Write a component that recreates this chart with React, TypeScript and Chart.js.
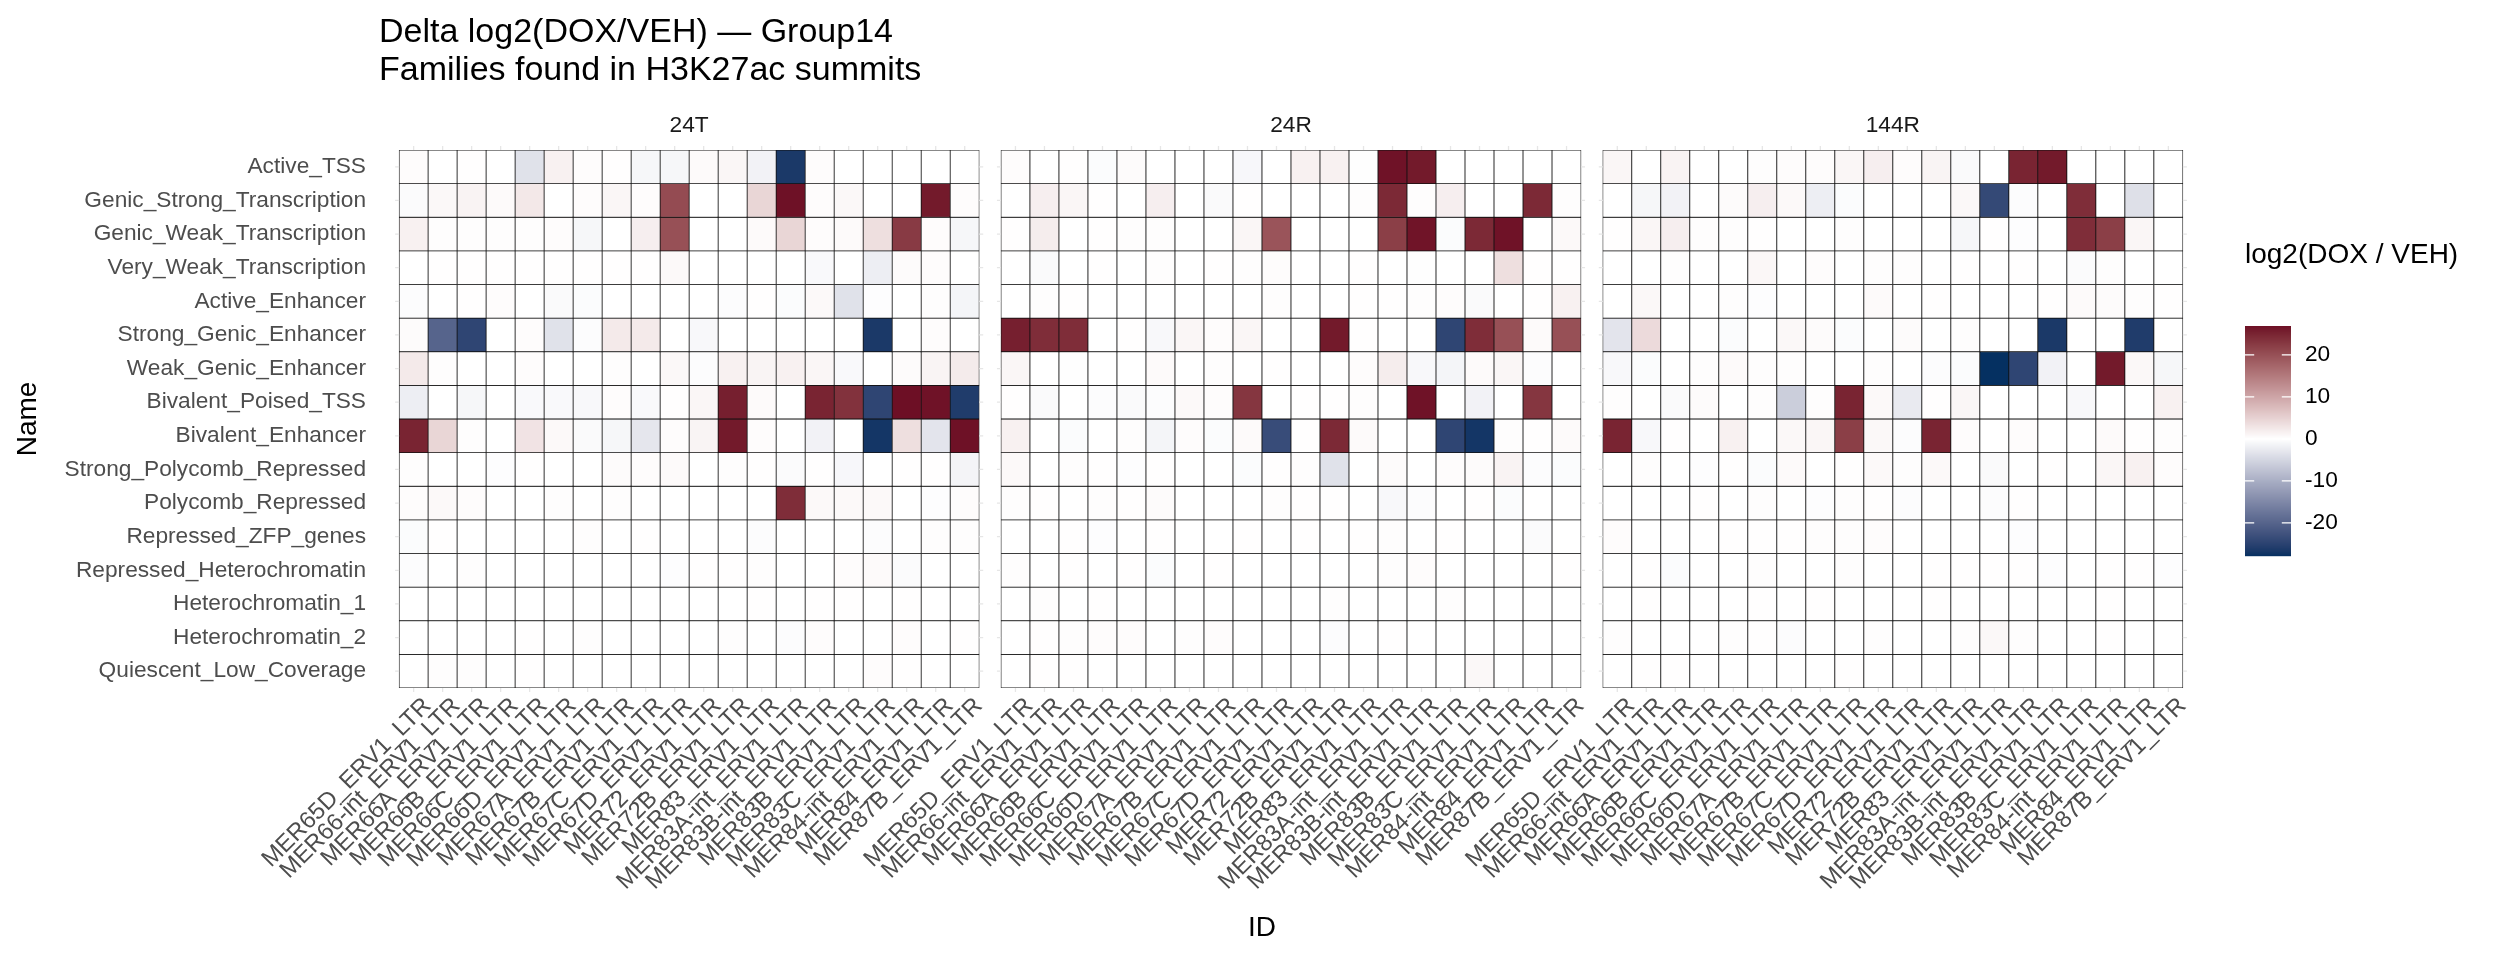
import React, { useEffect, useRef } from 'react';
import { Chart, registerables } from 'chart.js';

Chart.register(...registerables);

const titleLines = ['Delta log2(DOX/VEH) \u2014 Group14', 'Families found in H3K27ac summits'];
const xTitle = 'ID';
const yTitle = 'Name';
const legendTitle = 'log2(DOX / VEH)';
const legendTicks = [-20, -10, 0, 10, 20];

const facets = ['24T', '24R', '144R'];

const ids = [
  'MER65D_ERV1_LTR', 'MER66-int_ERV1_LTR', 'MER66A_ERV1_LTR', 'MER66B_ERV1_LTR', 'MER66C_ERV1_LTR',
  'MER66D_ERV1_LTR', 'MER67A_ERV1_LTR', 'MER67B_ERV1_LTR', 'MER67C_ERV1_LTR', 'MER67D_ERV1_LTR',
  'MER72_ERV1_LTR', 'MER72B_ERV1_LTR', 'MER83_ERV1_LTR', 'MER83A-int_ERV1_LTR', 'MER83B-int_ERV1_LTR',
  'MER83B_ERV1_LTR', 'MER83C_ERV1_LTR', 'MER84-int_ERV1_LTR', 'MER84_ERV1_LTR', 'MER87B_ERV1_LTR',
];

const states = [
  'Active_TSS', 'Genic_Strong_Transcription', 'Genic_Weak_Transcription', 'Very_Weak_Transcription',
  'Active_Enhancer', 'Strong_Genic_Enhancer', 'Weak_Genic_Enhancer', 'Bivalent_Poised_TSS',
  'Bivalent_Enhancer', 'Strong_Polycomb_Repressed', 'Polycomb_Repressed', 'Repressed_ZFP_genes',
  'Repressed_Heterochromatin', 'Heterochromatin_1', 'Heterochromatin_2', 'Quiescent_Low_Coverage',
];

// rows = states (top to bottom), columns = ids
const vals24T = [
  [0.3, 0, 0.1, 0, -3.5, 1.5, 0.3, 0.1, -1, -1, 0.5, 1, -1.5, -26.5, 0.3, 0, 0, 0, 0, 0],
  [-0.5, 0.8, 1.3, 0.5, 2.5, 0, 0.3, 1, 0.3, 20.5, 0, 0, 4.5, 26.8, 0.3, 0.8, 0, 0, 26, 0.3],
  [1.5, 0.2, 0.2, 0.2, 0.2, 0.3, -1, 0, 1.8, 20, 0, 0, 0.5, 4.5, 0.3, 0.5, 3.5, 22.5, 0.3, -1],
  [0, 0.1, 0.1, 0.1, 0.1, 0.1, 0.1, 0.1, 0.1, 0.7, 0, 0, 0, 0, -0.7, 0, -2, 0.4, 0.3, 0],
  [-0.3, 0, 0.1, 0.3, 0, -0.6, -0.4, 0, 0, 0, 0, -0.3, 0.1, -0.4, 0.6, -3.5, -0.2, 0, 0.2, -1.2],
  [0.4, -20, -24.5, 0, 0.3, -3.5, -0.3, 2.3, 2.3, 0, -0.8, 0, 0, 0, 0, 0, -26.5, 0, 0.3, 0],
  [2.3, 0.2, 0, 0, 0.3, 0, 0, 0.2, 0, 0.8, -0.3, 1.5, 1.2, 1.5, 1, -0.7, 0, 0.4, 1.2, 2.2],
  [-2, 0, -1, 0, -0.7, -0.7, -0.8, 0.3, -0.7, 0.1, 1, 25.5, 0.5, 0, 25, 23.5, -24.5, 26.9, 26.7, -26],
  [25, 4.5, 0.2, 0, 3, 0.7, -0.6, -1, -3, 0.3, 1.2, 26, 0.3, 0, -1.5, 0, -27, 3.5, -3.2, 26.8],
  [0.2, 0, 0, -0.2, 0.1, 0, 0, 0.4, 0.3, 0.5, 0, 0.2, 0.1, -0.5, 0.1, -0.9, 0, 0.1, 0.1, -1.3],
  [0.3, 0.6, 0.3, 0, 0, 0.2, 0, 0.2, 0, 0, 0, 0, 0, 24, 0.6, 0.7, 0.6, 0, -0.2, 0.3],
  [-0.4, 0.1, 0, 0, 0, 0, 0.2, 0, 0.1, 0, 0, 0, -0.3, 0, 0, 0, -0.3, 0, 0.2, 0.2],
  [-0.3, 0, 0.2, 0, 0, 0, 0, 0, 0, -0.2, 0.1, 0.1, 0.2, 0, 0, 0.3, 0.5, -0.5, 0, 0],
  [0, 0, 0, 0, 0, 0, 0, 0, 0, 0, 0, 0, 0.1, 0, 0.1, 0.1, 0, 0.1, 0, 0],
  [0, 0, 0, 0, 0.1, 0, 0.2, 0, 0, 0, 0, 0.2, 0, -0.3, 0.3, 0, 0, 0.3, 0, 0.1],
  [0, 0.2, 0.2, 0, 0.1, 0, 0, 0, 0, 0, 0, 0, 0, 0, 0, 0, 0.3, 0.1, 0, 0],
];

const vals24R = [
  [0.3, 0, 0.1, -0.4, 0.4, 0, 0, 0, -0.9, 0, 1.5, 1.5, -0.1, 26.7, 26, 0, 0, 0, 0, 0],
  [0, 1.8, 1, 0.1, 0, 1.8, 0, -0.6, 0.1, 0, 0, 0, 0.2, 24.5, 0.2, 1.8, 0, 0, 24.5, 0.2],
  [0.1, 2, 0, 0.1, 0.2, 0.2, 0, 0, 1, 19.5, 0, 0, 0, 22, 26.5, -0.4, 24.5, 26.7, 0, 0.6],
  [0, -0.6, 0, 0.1, 0, 0.2, 0, 0.1, 0.2, 0.3, 0, 0, 0.1, 0, -0.1, 0, 0, 3.5, 0.1, 0.1],
  [0, 0.2, 0.1, 0, 0, 0, 0, 0, 0, 0.2, 0, 0, 0.1, 0.1, 0.2, 0.3, -0.6, 0, 0.1, 1.5],
  [25.5, 24, 24, 0, 0.1, -0.8, 1, 0.3, 1, 0, 0, 26, 0.1, 0, 0, -24.5, 24, 20, 0.5, 20],
  [1, 0, -0.1, 0, 0, 0.5, 0, 0.2, 0, 0.1, 0, 0, 0.3, 2, -0.8, -1.2, 0.5, 1, -0.3, 0],
  [0.1, -0.6, 0, -0.3, -0.6, -0.3, 0.6, 0.3, 23, 0, 0.1, 0.1, 0.2, 0, 26.7, 0, -1.5, 0, 23, 0],
  [1.5, 0, -0.4, 0, 0.2, -1.2, 0.3, -0.4, 0.5, -23.5, 0.1, 24.5, 0.5, 0, 0, -24.5, -27, 0.2, 0.1, 0.5],
  [0.6, 0, 0.2, 0.1, -0.2, 0.1, 0, 0, -0.4, 0.1, 0.2, -3.5, 0, 0.4, 0, 0.3, 0.4, 1.3, -0.3, -0.4],
  [0.2, 0.1, 0, 0.2, 0.1, 0.4, 0, 0, 0, 0.2, 0.1, 0.1, 0, -0.8, -0.3, 0, 0.1, -0.4, 0, 0],
  [0, 0, 0.1, -0.2, 0, 0.1, 0, 0, 0.1, 0, 0.1, 0, 0.1, 0.2, 0, 0.1, 0, 0, -0.5, 0],
  [0.2, 0, 0.1, 0, 0.1, -0.4, 0, 0.1, 0, 0, 0, 0, 0, 0.2, 0.3, 0, 0, 0, 0, 0.1],
  [0, 0.2, 0, 0.1, 0, 0, 0, 0, 0, 0, 0, 0.2, 0, 0, 0, 0.2, 0, 0, 0, 0],
  [0, 0.1, 0.2, 0.3, 0.3, 0, 0.2, 0.3, 0, 0, 0, -0.3, 0, 0.1, 0, 0, 0, 0, 0, 0],
  [0, 0.1, 0.1, 0, 0, 0, 0, 0, 0, 0, 0, 0, 0, 0, 0, 0, 0.8, 0, 0, 0],
];

const vals144R = [
  [1, 0, 1.3, 0, 0, 0.2, 0.3, 0.3, 1, 1.8, 0.3, 1.2, -0.6, 0, 25, 26, 0, 0, 0, 0],
  [0, -1, -1.5, 0, 0.4, 1.8, 0.6, -2, -0.4, 0, 0, 0, 0.8, -24, -0.3, 0, 24, 0, -3.8, 0],
  [0.1, 1, 1.8, 0.2, 0.2, 0.1, 0, 0, 0.2, 0, 0, 0, -1, 0.1, -0.2, 0, 24, 22, 1, 0],
  [0, 0, 0.2, 0, 0, 0.9, 0, 0.3, 0, 0.2, 0.2, 0, 0.1, 0, 0.1, 0, -0.5, 0.2, 0, 0],
  [0, 0.8, 0, 0, 0.2, -0.2, 0, 0, 0, 0.5, 0, 0.1, 0, 0, 0, 0.1, 0.5, 0.4, 0.2, 0.1],
  [-3.2, 4, 0, 0, -0.4, 0, 0.8, 0.4, -0.4, 0, 0.4, 0, 0.2, 0, 0, -26.5, 0, 0, -26, 0],
  [-0.8, -0.4, 0, 0.2, 0.5, 0.2, 0.2, 0, 0, 0.2, 0, -0.3, -0.4, -27.9, -24.5, -1.5, 0, 26, 0.8, -1],
  [0.2, 0, -0.6, 0.4, 0, 0.2, -6, 0.2, 25, 0.6, -2.5, 0.1, 1, 0, 0, 0, -0.8, 0, 0, 1.5],
  [25, -0.8, 0.1, 0, 1.5, 0, 0.8, 1, 22, 0.8, -0.3, 25, 0.3, 0, 0.3, 0, 0, 0.5, 0.1, 0.2],
  [0, 0.2, 0, -0.2, 0.1, -0.4, 0.5, 0, 0.1, 0.6, 0.2, 0.6, 0, -0.6, 0, 0.1, 0, 1, 1.5, 0.3],
  [0, 0, 0, 0.1, 0, 0.2, 0, -0.2, 0.2, 0.1, -0.3, 0, 0, -0.3, 0.1, 0, 0, 0, 0, 0],
  [0.3, 0, 0, 0, 0.1, 0.1, 0.1, 0.2, 0.2, 0.3, 0, 0, 0, 0, -0.2, 0, 0, 0, 0, 0],
  [0, 0.1, -0.4, 0, 0, 0.2, 0, 0, 0.2, 0, 0, 0.1, 0.1, 0.1, 0.1, -0.2, 0, 0.1, 0.1, -0.2],
  [0, 0.1, 0, 0, 0, 0.1, 0, 0.1, 0, 0, 0, 0.1, 0, 0, 0, 0, 0, 0.1, 0, 0],
  [0.2, 0, 0, 0, 0.2, 0.1, -0.3, 0, 0, 0.2, 0, 0, 0.2, 0.8, 0.2, 0, 0, 0.1, 0, 0],
  [0, 0.1, 0.1, 0, 0, 0, 0, 0, 0.1, 0, 0, 0, 0, 0, 0, 0, 0, 0, 0, 0],
];

const panelValues = [vals24T, vals24R, vals144R];

const LOW = '#053061';
const MID = '#FFFFFF';
const HIGH = '#67001F';
const FONT = '"Liberation Sans", Arial, Helvetica, sans-serif';

// ---- Lab colour interpolation (like scales::colour_ramp) ----
function hexToRgb(h: string) {
  const n = parseInt(h.slice(1), 16);
  return [(n >> 16) & 255, (n >> 8) & 255, n & 255];
}
function toLin(c: number) {
  c /= 255;
  return c <= 0.04045 ? c / 12.92 : Math.pow((c + 0.055) / 1.055, 2.4);
}
function fromLin(c: number) {
  const v = c <= 0.0031308 ? 12.92 * c : 1.055 * Math.pow(c, 1 / 2.4) - 0.055;
  return Math.max(0, Math.min(255, Math.round(v * 255)));
}
const WX = 0.95047, WY = 1.0, WZ = 1.08883;
function fLab(t: number) { return t > 0.008856 ? Math.cbrt(t) : 7.787 * t + 16 / 116; }
function fInv(t: number) { const t3 = t * t * t; return t3 > 0.008856 ? t3 : (t - 16 / 116) / 7.787; }
function rgbToLab(rgb: number[]) {
  const [r, g, b] = rgb.map(toLin);
  const X = 0.4124564 * r + 0.3575761 * g + 0.1804375 * b;
  const Y = 0.2126729 * r + 0.7151522 * g + 0.072175 * b;
  const Z = 0.0193339 * r + 0.119192 * g + 0.9503041 * b;
  const fx = fLab(X / WX), fy = fLab(Y / WY), fz = fLab(Z / WZ);
  return [116 * fy - 16, 500 * (fx - fy), 200 * (fy - fz)];
}
function labToRgb(lab: number[]) {
  const fy = (lab[0] + 16) / 116;
  const fx = fy + lab[1] / 500;
  const fz = fy - lab[2] / 200;
  const X = fInv(fx) * WX, Y = fInv(fy) * WY, Z = fInv(fz) * WZ;
  const r = 3.2404542 * X - 1.5371385 * Y - 0.4985314 * Z;
  const g = -0.969266 * X + 1.8760108 * Y + 0.041556 * Z;
  const b = 0.0556434 * X - 0.2040259 * Y + 1.0572252 * Z;
  return [fromLin(r), fromLin(g), fromLin(b)];
}
const labLow = rgbToLab(hexToRgb(LOW));
const labMid = rgbToLab(hexToRgb(MID));
const labHigh = rgbToLab(hexToRgb(HIGH));

const allValues = panelValues.flat(2);
const vMin = Math.min(...allValues);
const vMax = Math.max(...allValues);
const maxAbs = Math.max(Math.abs(vMin), Math.abs(vMax));

function colorFor(v: number) {
  const t = 0.5 + v / (2 * maxAbs);
  let a: number[], b: number[], s: number;
  if (t < 0.5) { a = labLow; b = labMid; s = t / 0.5; } else { a = labMid; b = labHigh; s = (t - 0.5) / 0.5; }
  s = Math.max(0, Math.min(1, s));
  const lab = [0, 1, 2].map((i) => a[i] + (b[i] - a[i]) * s);
  const [r, g, bb] = labToRgb(lab);
  return `rgb(${r},${g},${bb})`;
}

// ---- layout in data units ----
const NC = ids.length;
const GAP = 0.75;
const xOf = (p: number, c: number) => p * (NC + GAP) + c + 0.5;
const panelStart = (p: number) => p * (NC + GAP);
const tickPositions = facets.flatMap((_, p) => ids.map((__, c) => xOf(p, c)));

const W = 2496;
const H = 960;

export default function App() {
  const ref = useRef<HTMLCanvasElement | null>(null);

  useEffect(() => {
    const canvas = ref.current;
    if (!canvas) return;

    const datasets = states.map((s, r) => ({
      label: s,
      data: panelValues.flatMap((pv, p) => pv[r].map((_, c) => ({ x: xOf(p, c), y: [r, r + 1] }))),
      backgroundColor: panelValues.flatMap((pv) => pv[r].map((v) => colorFor(v))),
      borderColor: '#111111',
      borderWidth: 0.75,
      borderSkipped: false,
      grouped: false,
      categoryPercentage: 1,
      barPercentage: 1,
    }));

    const decor = {
      id: 'decor',
      afterDraw(chart: any) {
        const ctx = chart.ctx;
        const xs = chart.scales.x;
        const ys = chart.scales.y;
        const area = chart.chartArea;
        ctx.save();
        // title
        ctx.fillStyle = '#000';
        ctx.textAlign = 'left';
        ctx.textBaseline = 'alphabetic';
        ctx.font = `34px ${FONT}`;
        ctx.fillText(titleLines[0], 379, 42);
        ctx.fillText(titleLines[1], 379, 80);

        // x axis title
        ctx.font = `28px ${FONT}`;
        ctx.textAlign = 'center';
        ctx.textBaseline = 'middle';
        ctx.fillText(xTitle, 1262, 928);

        // facet strips + grey ticks
        ctx.font = `22.7px ${FONT}`;
        ctx.fillStyle = '#1a1a1a';
        facets.forEach((f, p) => {
          const l = xs.getPixelForValue(panelStart(p));
          const r = xs.getPixelForValue(panelStart(p) + NC);
          ctx.fillText(f, (l + r) / 2, 126);
          ctx.strokeStyle = '#e6e6e6';
          ctx.lineWidth = 1.3;
          ctx.beginPath();
          ids.forEach((_, c) => {
            const x = xs.getPixelForValue(xOf(p, c));
            ctx.moveTo(x, area.top - 4); ctx.lineTo(x, area.top);
            ctx.moveTo(x, area.bottom); ctx.lineTo(x, area.bottom + 4);
          });
          states.forEach((_, rr) => {
            const y = ys.getPixelForValue(rr + 0.5);
            ctx.moveTo(l - 4, y); ctx.lineTo(l, y);
            ctx.moveTo(r, y); ctx.lineTo(r + 4, y);
          });
          ctx.stroke();
        });

        // legend
        const bx = 2245, bw = 46, bTop = 326, bBot = 556;
        ctx.fillStyle = '#000';
        ctx.textAlign = 'left';
        ctx.textBaseline = 'alphabetic';
        ctx.font = `28px ${FONT}`;
        ctx.fillText(legendTitle, bx, 263);
        const vToY = (v: number) => bBot - ((v - vMin) / (vMax - vMin)) * (bBot - bTop);
        for (let y = bTop; y < bBot; y++) {
          const v = vMin + ((bBot - (y + 0.5)) / (bBot - bTop)) * (vMax - vMin);
          ctx.fillStyle = colorFor(v);
          ctx.fillRect(bx, y, bw, 1.2);
        }
        ctx.strokeStyle = '#ffffff';
        ctx.lineWidth = 1.2;
        ctx.font = `22.7px ${FONT}`;
        ctx.textBaseline = 'middle';
        legendTicks.forEach((t) => {
          const y = vToY(t);
          ctx.beginPath();
          ctx.moveTo(bx, y); ctx.lineTo(bx + bw / 5, y);
          ctx.moveTo(bx + bw - bw / 5, y); ctx.lineTo(bx + bw, y);
          ctx.stroke();
          ctx.fillStyle = '#000';
          ctx.fillText(String(t), 2305, y);
        });
        ctx.restore();
      },
    };

    const chart = new Chart(canvas, {
      type: 'bar',
      data: { datasets: datasets as any },
      options: {
        responsive: false,
        maintainAspectRatio: false,
        animation: false,
        devicePixelRatio: 1,
        layout: { padding: { left: 0, top: 150, right: W - 2198, bottom: 12 } },
        plugins: { legend: { display: false }, tooltip: { enabled: false }, title: { display: false } },
        scales: {
          x: {
            type: 'linear',
            min: 0,
            max: facets.length * NC + (facets.length - 1) * GAP,
            afterBuildTicks: (s: any) => { s.ticks = tickPositions.map((v) => ({ value: v })); },
            afterFit: (s: any) => { s.height = 260; },
            grid: { display: false, drawTicks: false },
            border: { display: false },
            ticks: {
              autoSkip: false,
              minRotation: 45,
              maxRotation: 45,
              padding: 4,
              labelOffset: 14,
              color: '#4d4d4d',
              font: { family: FONT, size: 23.8 },
              callback: (_v: any, i: number) => ids[i % NC],
            },
            title: { display: false },
          },
          y: {
            type: 'linear',
            min: 0,
            max: states.length,
            reverse: true,
            afterBuildTicks: (s: any) => { s.ticks = states.map((_, i) => ({ value: i + 0.5 })); },
            afterFit: (s: any) => { s.width = 384; },
            grid: { display: false, drawTicks: false },
            border: { display: false },
            ticks: {
              autoSkip: false,
              padding: 18,
              color: '#4d4d4d',
              font: { family: FONT, size: 22.7 },
              callback: (_v: any, i: number) => states[i],
            },
            title: { display: true, text: yTitle, color: '#000', font: { family: FONT, size: 28 }, padding: { top: 11, bottom: 0 } },
          },
        },
      } as any,
      plugins: [decor],
    });

    return () => chart.destroy();
  }, []);

  return (
    <div style={{ position: 'fixed', left: 0, top: 0, width: W, height: H, background: '#fff' }}>
      <canvas ref={ref} width={W} height={H} style={{ display: 'block', width: W, height: H }} />
    </div>
  );
}
